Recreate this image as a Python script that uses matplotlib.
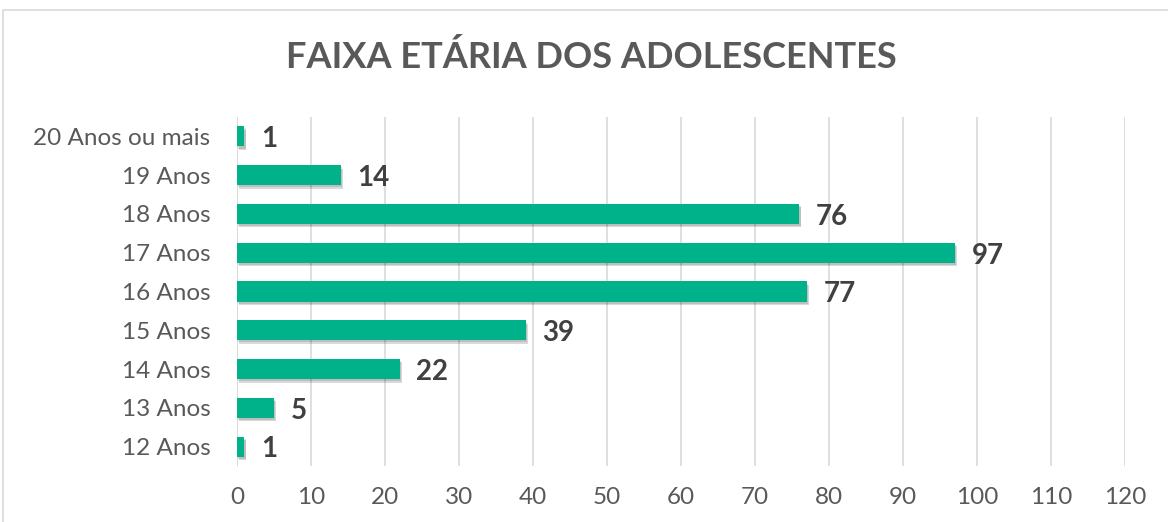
import matplotlib.pyplot as plt
import matplotlib.patheffects as pe
from matplotlib.patches import Rectangle

categorias = ["12 Anos", "13 Anos", "14 Anos", "15 Anos", "16 Anos",
              "17 Anos", "18 Anos", "19 Anos", "20 Anos ou mais"]
valores = [1, 5, 22, 39, 77, 97, 76, 14, 1]
ticks_x = list(range(0, 121, 10))

plt.rcParams['font.family'] = ['Lato', 'DejaVu Sans']

fig = plt.figure(figsize=(11.68, 5.22), dpi=100)
ax = fig.add_axes([237 / 1168, 1 - 466 / 522, (1125 - 237) / 1168, (466 - 117) / 522])

# moldura do grafico
fig.patches.append(Rectangle((3 / 1168, -0.05), 1.2, 1 - 10 / 522 + 0.05,
                             transform=fig.transFigure, fill=False,
                             edgecolor="#D9D9D9", linewidth=1.2))

y = range(len(categorias))
bars = ax.barh(y, valores, height=0.52, color="#00B28A", zorder=3)
for b in bars:
    b.set_path_effects([pe.SimplePatchShadow(offset=(1.5, -2.5), shadow_rgbFace="#000000", alpha=0.15),
                        pe.SimplePatchShadow(offset=(1, -1.5), shadow_rgbFace="#000000", alpha=0.12),
                        pe.Normal()])

for i, v in enumerate(valores):
    ax.annotate(str(v), (v, i), xytext=(12, -2), textcoords="offset points",
                ha="left", va="center", fontsize=20, fontweight="bold", color="#404040")

ax.set_xlim(0, 120)
ax.set_ylim(-0.5, 8.5)
ax.set_xticks(ticks_x)
ax.set_yticks(list(y))
ax.set_yticklabels(categorias)
ax.tick_params(axis="both", length=0, labelsize=17.5, labelcolor="#595959")
ax.tick_params(axis="x", pad=15)
ax.tick_params(axis="y", pad=19)
ax.grid(axis="x", color="#D9D9D9", linewidth=1.2, zorder=0)
for s in ax.spines.values():
    s.set_visible(False)
ax.axvline(0, color="#D9D9D9", linewidth=1.2, zorder=1)

fig.text(591 / 1168, 1 - 57 / 522, "FAIXA ETÁRIA DOS ADOLESCENTES", ha="center", va="center",
         fontsize=26, fontweight="bold", color="#595959")

fig.savefig("out.png", dpi=100)
